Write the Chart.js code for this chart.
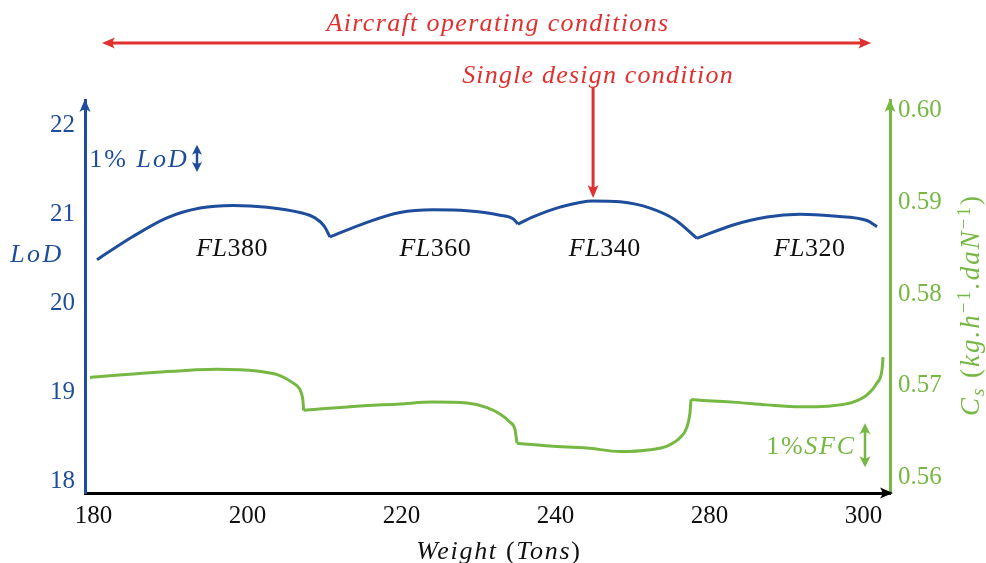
<!DOCTYPE html>
<html>
<head>
<meta charset="utf-8">
<script src="https://cdn.jsdelivr.net/npm/chart.js@4.4.1/dist/chart.umd.min.js"></script>
<style>
  html, body { margin: 0; padding: 0; background: #fff; }
  canvas { display: block; }
</style>
</head>
<body>
<canvas id="lodChart" width="986" height="563"></canvas>
<script>
/****************************** Data ********************************/
// Weight axis positions are given in tick steps counted from the first label.
const weightLabels = ["180", "200", "220", "240", "280", "300"];
const lodTicks = [18, 19, 20, 21, 22];
const sfcTicks = [0.56, 0.57, 0.58, 0.59, 0.60];
const flightLevels = ["380", "360", "340", "320"];

// lift over drag, one branch per flight level
const fl380Pos = [0.023, 0.256, 0.477, 0.692, 0.906, 1.127, 1.341, 1.438, 1.497, 1.536];
const fl380LoD = [20.49, 20.75, 20.96, 21.07, 21.10, 21.08, 21.02, 20.96, 20.87, 20.745];
const fl360Pos = [1.536, 1.776, 1.990, 2.204, 2.425, 2.640, 2.724, 2.756];
const fl360LoD = [20.745, 20.91, 21.02, 21.05, 21.04, 20.99, 20.95, 20.89];
const fl340Pos = [2.756, 2.854, 3.029, 3.244, 3.419, 3.614, 3.776, 3.919];
const fl340LoD = [20.89, 20.97, 21.08, 21.15, 21.14, 21.07, 20.94, 20.73];
const fl320Pos = [3.919, 4.153, 4.373, 4.588, 4.802, 5.023, 5.088];
const fl320LoD = [20.73, 20.88, 20.97, 21.00, 20.98, 20.93, 20.86];

// specific fuel consumption, same branches
const sfc380Pos = [-0.023, 0.367, 0.802, 1.062, 1.211, 1.295, 1.340, 1.356, 1.362, 1.364];
const sfc380 = [0.5709, 0.5714, 0.5718, 0.5716, 0.5711, 0.5703, 0.5696, 0.5688, 0.5680, 0.5673];
const sfc360Pos = [1.364, 1.666, 1.990, 2.205, 2.425, 2.555, 2.640, 2.705, 2.737, 2.750];
const sfc360 = [0.5673, 0.5677, 0.5680, 0.5682, 0.5681, 0.5676, 0.5669, 0.5660, 0.5652, 0.5637];
const sfc340Pos = [2.750, 2.964, 3.205, 3.419, 3.614, 3.724, 3.808, 3.854, 3.873, 3.880];
const sfc340 = [0.5637, 0.5634, 0.5632, 0.5628, 0.5630, 0.5634, 0.5643, 0.5655, 0.5670, 0.5685];
const sfc320Pos = [3.880, 3.938, 4.153, 4.373, 4.588, 4.698, 4.847, 4.932, 5.023, 5.088, 5.120, 5.127];
const sfc320 = [0.5685, 0.5684, 0.5682, 0.5679, 0.5677, 0.5677, 0.5679, 0.5682, 0.5690, 0.5703, 0.5717, 0.5731];

/****************************** Styles ********************************/
const BLUE = "#1e4d9c";
const GREEN = "#76b843";
const RED = "#e0302f";
const SERIF = '"Liberation Serif", "Times New Roman", serif';

function points(pos, vals) {
    return pos.map((p, i) => ({ x: p, y: vals[i] }));
}

function branch(pos, vals, axis, color) {
    return {
        data: points(pos, vals),
        yAxisID: axis,
        borderColor: color,
        borderWidth: 3,
        pointRadius: 0,
        fill: false,
        cubicInterpolationMode: "monotone"
    };
}

// filled latex-style arrow tip pointing along ang
function head(ctx, tx, ty, ang, color, len, wid) {
    ctx.save();
    ctx.translate(tx, ty);
    ctx.rotate(ang);
    ctx.fillStyle = color;
    ctx.beginPath();
    ctx.moveTo(0, 0);
    ctx.lineTo(-len, -wid / 2);
    ctx.quadraticCurveTo(-len * 0.65, 0, -len, wid / 2);
    ctx.closePath();
    ctx.fill();
    ctx.restore();
}

function arrow(ctx, x1, y1, x2, y2, color, w, both, hl, hw) {
    const ang = Math.atan2(y2 - y1, x2 - x1);
    const c = Math.cos(ang), s = Math.sin(ang);
    const back = hl * 0.6;
    ctx.save();
    ctx.strokeStyle = color;
    ctx.lineWidth = w;
    ctx.beginPath();
    ctx.moveTo(x1 + (both ? c * back : 0), y1 + (both ? s * back : 0));
    ctx.lineTo(x2 - c * back, y2 - s * back);
    ctx.stroke();
    ctx.restore();
    head(ctx, x2, y2, ang, color, hl, hw);
    if (both) head(ctx, x1, y1, ang + Math.PI, color, hl, hw);
}

// parts: [text, italic, scale, dy]
function text(ctx, parts, cx, cy, size, spacing, color, angle) {
    ctx.save();
    ctx.translate(cx, cy);
    if (angle) ctx.rotate(angle);
    ctx.fillStyle = color;
    ctx.textAlign = "left";
    ctx.textBaseline = "alphabetic";
    ctx.letterSpacing = spacing + "px";
    const fonts = parts.map(p => (p[1] ? "italic " : "") + Math.round(size * (p[2] || 1)) + "px " + SERIF);
    const widths = parts.map((p, i) => { ctx.font = fonts[i]; return ctx.measureText(p[0]).width; });
    let xx = -widths.reduce((a, b) => a + b, 0) / 2;
    const base = size * 0.33;
    parts.forEach((p, i) => {
        ctx.font = fonts[i];
        ctx.fillText(p[0], xx, base + (p[3] || 0));
        xx += widths[i];
    });
    ctx.restore();
}

/****************************** Annotations ********************************/
const annotations = {
    id: "annotations",
    afterDraw(chart) {
        const { ctx, chartArea: area, scales: { x, y, y1 } } = chart;

        // axis arrow tips
        head(ctx, area.right + 3, area.bottom, 0, "#000", 13, 11);
        head(ctx, area.left, area.top - 1, -Math.PI / 2, BLUE, 13, 11);
        head(ctx, area.right, area.top - 1, -Math.PI / 2, GREEN, 13, 11);

        // operating range and design point
        arrow(ctx, x.getPixelForValue(0.055), 43, x.getPixelForValue(5.05), 43, RED, 3, true, 13, 11);
        text(ctx, [["Aircraft operating conditions", true]], 498, 22, 26, 1.35, RED);
        text(ctx, [["Single design condition", true]], 598, 74, 26, 1.2, RED);
        const k = fl340LoD.indexOf(Math.max(...fl340LoD));
        const px = x.getPixelForValue(fl340Pos[k]);
        arrow(ctx, px, 87, px, y.getPixelForValue(fl340LoD[k]) - 3, RED, 3, false, 13, 11);

        // flight level names
        const at = [0.9, 2.22, 3.32, 4.65];
        flightLevels.forEach((fl, i) => {
            text(ctx, [["FL", true], [fl, false]], x.getPixelForValue(at[i]), y.getPixelForValue(20.63), 26, 0.5, "#111");
        });

        // 1% markers
        text(ctx, [["1%", false], [" LoD", true]], 139, 158, 26, 2, BLUE);
        arrow(ctx, 197, y.getPixelForValue(21.78), 197, y.getPixelForValue(21.475), BLUE, 2.5, true, 10, 10);
        text(ctx, [["1%", false], ["SFC", true]], 811, 445, 26, 1.7, GREEN);
        arrow(ctx, 865, y1.getPixelForValue(0.5659), 865, y1.getPixelForValue(0.5611), GREEN, 2.5, true, 11, 11);

        // axis titles
        text(ctx, [["LoD", true]], 37, 253, 26, 2.5, BLUE);
        text(ctx, [["Weight", true], [" (", false], ["Tons", true], [")", false]], 499, 550, 26, 1.7, "#111");
        text(ctx, [
            ["C", true], ["s", true, 0.7, 5], [" (", false], ["kg.h", true], ["\u22121", false, 0.7, -9],
            [".daN", true], ["\u22121", false, 0.7, -9], [")", false]
        ], 970, 305, 27, 2, GREEN, -Math.PI / 2);
    }
};

/****************************** LoD / SFC Chart ********************************/
new Chart("lodChart", {
    type: "line",
    data: {
        datasets: [
            branch(fl380Pos, fl380LoD, "y", BLUE),
            branch(fl360Pos, fl360LoD, "y", BLUE),
            branch(fl340Pos, fl340LoD, "y", BLUE),
            branch(fl320Pos, fl320LoD, "y", BLUE),
            branch(sfc380Pos, sfc380, "y1", GREEN),
            branch(sfc360Pos, sfc360, "y1", GREEN),
            branch(sfc340Pos, sfc340, "y1", GREEN),
            branch(sfc320Pos, sfc320, "y1", GREEN)
        ]
    },
    options: {
        responsive: false,
        animation: false,
        devicePixelRatio: 1,
        layout: { padding: { top: 100, left: 0, right: 0, bottom: 0 } },
        plugins: { legend: { display: false }, tooltip: { enabled: false } },
        scales: {
            x: {
                type: "linear",
                min: -0.055,
                max: 5.172,
                grid: { display: false, drawTicks: false },
                border: { color: "#000", width: 3 },
                ticks: {
                    color: "#111",
                    padding: 8,
                    maxRotation: 0,
                    font: { family: SERIF, size: 25 },
                    callback: v => weightLabels[v]
                },
                afterBuildTicks: s => { s.ticks = weightLabels.map((_, i) => ({ value: i })); },
                afterFit: s => { s.height = 70; }
            },
            y: {
                position: "left",
                min: 17.869,
                max: 22.284,
                grid: { display: false, drawTicks: false },
                border: { color: BLUE, width: 3 },
                ticks: {
                    color: BLUE,
                    padding: 10,
                    font: { family: SERIF, size: 25 },
                    callback: v => String(v)
                },
                afterBuildTicks: s => { s.ticks = lodTicks.map(v => ({ value: v })); },
                afterFit: s => { s.width = 85; }
            },
            y1: {
                position: "right",
                min: 0.55828,
                max: 0.60118,
                grid: { display: false, drawTicks: false },
                border: { color: GREEN, width: 3 },
                ticks: {
                    color: GREEN,
                    padding: 8,
                    font: { family: SERIF, size: 25 },
                    callback: v => v.toFixed(2)
                },
                afterBuildTicks: s => { s.ticks = sfcTicks.map(v => ({ value: v })); },
                afterFit: s => { s.width = 96; }
            }
        }
    },
    plugins: [annotations]
});
</script>
</body>
</html>
